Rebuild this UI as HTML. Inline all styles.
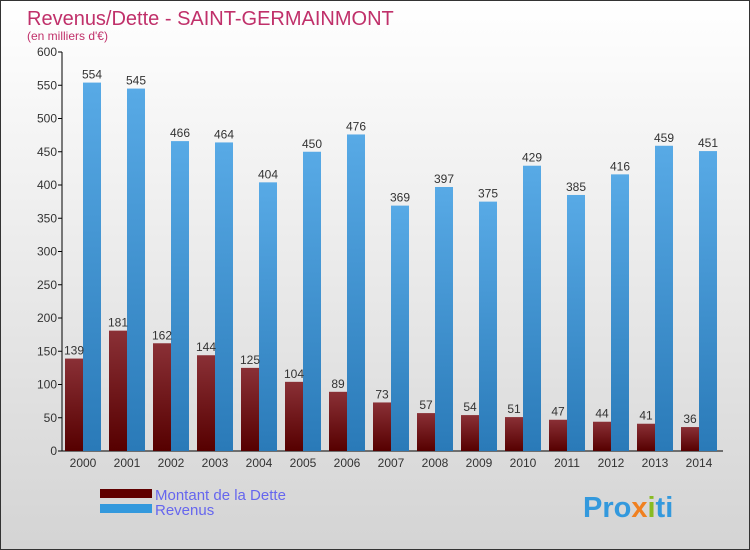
<!DOCTYPE html>
<html><head><meta charset="utf-8"><style>
body{margin:0}
#c{position:relative;width:748px;height:548px;border:1px solid #333;background:linear-gradient(#ffffff,#d4d4d4);font-family:"Liberation Sans",sans-serif;overflow:hidden}
</style></head><body>
<div id="c">
<svg id="s" width="748" height="548" xmlns="http://www.w3.org/2000/svg">
<defs>
<linearGradient id="gd" x1="0" y1="0" x2="0" y2="1"><stop offset="0" stop-color="#8a3036"/><stop offset="1" stop-color="#560000"/></linearGradient>
<linearGradient id="gr" x1="0" y1="0" x2="0" y2="1"><stop offset="0" stop-color="#58aae6"/><stop offset="1" stop-color="#2a7ab8"/></linearGradient>
</defs>
<text x="26" y="24" font-size="20" fill="#c0306a">Revenus/Dette - SAINT-GERMAINMONT</text>
<text x="26" y="39" font-size="12" fill="#c0306a">(en milliers d'€)</text>
<g id="plot"></g>
<rect x="99" y="488" width="52" height="9" fill="#600000"/>
<rect x="99" y="503" width="52" height="9" fill="#3399dd"/>
<text x="154" y="499" font-size="15" fill="#6666ee">Montant de la Dette</text>
<text x="154" y="514" font-size="15" fill="#6666ee">Revenus</text>
<text x="582" y="516" font-size="29" font-weight="bold"><tspan fill="#3399dd">Pro</tspan><tspan fill="#f08020">x</tspan><tspan fill="#88bb22">i</tspan><tspan fill="#3399dd">ti</tspan></text>
</svg>
</div>
<script>
const years=["2000","2001","2002","2003","2004","2005","2006","2007","2008","2009","2010","2011","2012","2013","2014"];
const dette=[139,181,162,144,125,104,89,73,57,54,51,47,44,41,36];
const revenus=[554,545,466,464,404,450,476,369,397,375,429,385,416,459,451];
const ticks=[0,50,100,150,200,250,300,350,400,450,500,550,600];
const NS="http://www.w3.org/2000/svg";
const g=document.getElementById('plot');
function y(v){return 450-v*399/600;}
function x(i){return 64+44*i;}
function mk(t,a,p){const e=document.createElementNS(NS,t);for(const k in a)e.setAttribute(k,a[k]);(p||g).appendChild(e);return e;}
const ax=mk('line',{x1:61,y1:y(600),x2:61,y2:450,stroke:'#000'});


const bx=mk('line',{x1:61,y1:450,x2:722,y2:450,stroke:'#000'});


ticks.forEach(t=>{
 const l=mk('line',{x1:57,x2:61,y1:y(t),y2:y(t),stroke:'#000'});
 
 
 const tx=mk('text',{x:56,y:y(t)+4,'font-size':12,fill:'#333','text-anchor':'end'});
 tx.textContent=t;
 
 
});
years.forEach((yr,i)=>{
 const d=mk('rect',{x:x(i),y:y(dette[i]),width:18,height:450-y(dette[i]),fill:'url(#gd)'});
 
 
 const r=mk('rect',{x:x(i)+18,y:y(revenus[i]),width:18,height:450-y(revenus[i]),fill:'url(#gr)'});
 
 
 const dl=mk('text',{x:x(i)+9,y:y(dette[i])-4,'font-size':12,fill:'#333','text-anchor':'middle'});
 dl.textContent=dette[i];
 
 
 const rl=mk('text',{x:x(i)+27,y:y(revenus[i])-4,'font-size':12,fill:'#333','text-anchor':'middle'});
 rl.textContent=revenus[i];
 
 
 const xl=mk('text',{x:x(i)+18,y:466,'font-size':12,fill:'#333','text-anchor':'middle'});
 xl.textContent=yr;
 
 
});
</script>
</body></html>
